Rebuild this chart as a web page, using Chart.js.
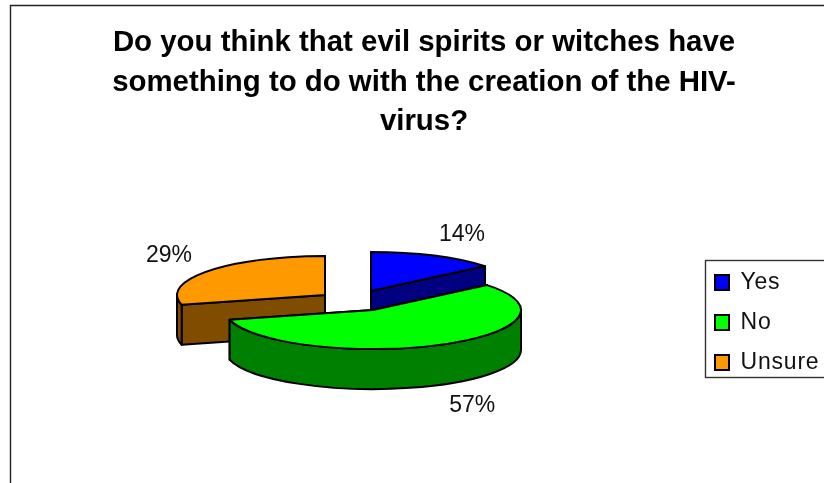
<!DOCTYPE html>
<html><head><meta charset="utf-8">
<style>html,body{margin:0;padding:0;background:#fff}canvas{display:block}</style>
<script src="https://cdn.jsdelivr.net/npm/chart.js@4"></script></head>
<body><div style="width:824px;height:483px"><canvas id="c" width="824" height="483"></canvas></div>
<script>
const categories = ['Yes','No','Unsure'];
const percentValues = [14,57,29];
const titleLines = ['Do you think that evil spirits or witches have','something to do with the creation of the HIV-','virus?'];
const topColors = ['#0000FF','#00FF00','#FF9900'];
const sideColors = ['#000080','#008000','#804D00'];

const pie3d = {
  id:'pie3d',
  beforeDraw(chart){
    const c=chart.ctx; c.save(); c.strokeStyle='#222'; c.lineWidth=1.4;
    c.beginPath(); c.moveTo(10.5,483); c.lineTo(10.5,5.5); c.lineTo(824,5.5); c.stroke(); c.restore();
  },
  afterLayout(chart,args,o){
    chart.titleBlock.left=o.titleLeft;
    const l=chart.legend; l.left=o.legendItemsX; l.top=o.legendItemsY;
    if(!l._spaced){
      l._spaced=true;
      const draw=l.draw;
      l.draw=function(area){
        const c=chart.ctx; c.save(); c.letterSpacing=o.legendSpacing; draw.call(this,area); c.restore();
      };
    }
  },
  beforeDatasetsDraw(chart,args,o){
    const c=chart.ctx, arcs=chart.getDatasetMeta(0).data;
    // paint order: back slices first, the large front slice last
    [0,2,1].forEach(i=>{
      const a=arcs[i], r=a.outerRadius, ry=r*o.tilt, d=o.depth;
      const cx=o.center[0]+o.explode[i][0], cy=o.center[1]+o.explode[i][1];
      const s=a.startAngle, e=a.endAngle;
      const pt=t=>[cx+r*Math.cos(t),cy+ry*Math.sin(t)];
      c.save(); c.lineJoin='round'; c.lineWidth=o.lineWidth; c.strokeStyle='#000';
      // flat cut faces
      c.fillStyle=sideColors[i];
      [s,e].forEach(t=>{
        const p=pt(t);
        c.beginPath(); c.moveTo(cx,cy); c.lineTo(p[0],p[1]); c.lineTo(p[0],p[1]+d); c.lineTo(cx,cy+d); c.closePath(); c.fill(); c.stroke();
      });
      // outer rim, front half only
      const ranges=[[s,e],[s-2*Math.PI,e-2*Math.PI],[s+2*Math.PI,e+2*Math.PI]];
      ranges.forEach(([p,q])=>{
        const a0=Math.max(p,0), a1=Math.min(q,Math.PI);
        if(a1<=a0) return;
        c.beginPath(); c.ellipse(cx,cy,r,ry,0,a0,a1,false);
        c.ellipse(cx,cy+d,r,ry,0,a1,a0,true); c.closePath(); c.fill(); c.stroke();
      });
      // top face
      c.fillStyle=topColors[i];
      c.beginPath(); c.moveTo(cx,cy); c.ellipse(cx,cy,r,ry,0,s,e,false); c.closePath(); c.fill(); c.stroke();
      c.restore();
    });
    // percentage labels
    c.save(); c.fillStyle='#111'; c.font=o.labelFont; c.textAlign='center'; c.textBaseline='middle';
    percentValues.forEach((v,i)=>{
      const a=arcs[i], m=(a.startAngle+a.endAngle)/2, r=a.outerRadius;
      const cx=o.center[0]+o.explode[i][0], cy=o.center[1]+o.explode[i][1];
      const lx=cx+r*Math.cos(m)+o.labelShift[i][0], ly=cy+r*o.tilt*Math.sin(m)+o.labelShift[i][1];
      c.fillText(v+'%',lx,ly);
    });
    c.restore();
    return false;
  },
  afterDraw(chart,args,o){
    const c=chart.ctx; c.save(); c.strokeStyle='#333'; c.lineWidth=1.4;
    c.strokeRect(o.legendX+.5,o.legendY+.5,o.legendW,o.legendH); c.restore();
  }
};

new Chart(document.getElementById('c'),{
  type:'pie',
  data:{labels:categories,datasets:[{data:percentValues,backgroundColor:topColors,borderColor:'#000',borderWidth:2}]},
  options:{
    responsive:false,animation:false,radius:148,
    layout:{padding:0},
    plugins:{
      tooltip:{enabled:false},
      title:{display:true,text:titleLines,color:'#000',align:'center',
        font:{family:'"Liberation Sans"',size:29.4,weight:'bold',lineHeight:1.35},
        padding:{top:23,bottom:0}},
      legend:{display:true,position:'right',align:'start',
        labels:{color:'#111',font:{family:'"Liberation Sans"',size:23},boxWidth:14,boxHeight:15,padding:17}},
      pie3d:{center:[373,310],explode:[[-2,-19],[0,0],[-48,-15]],tilt:0.264,depth:40,lineWidth:2,
        labelFont:'23px "Liberation Sans"',labelShift:[[28,-21],[32,61],[-39,-15]],
        legendX:705,legendY:260,legendW:130,legendH:117,titleLeft:24,
        legendItemsX:698,legendItemsY:254,legendSpacing:'0.8px'}
    }
  },
  plugins:[pie3d]
});
</script></body></html>
